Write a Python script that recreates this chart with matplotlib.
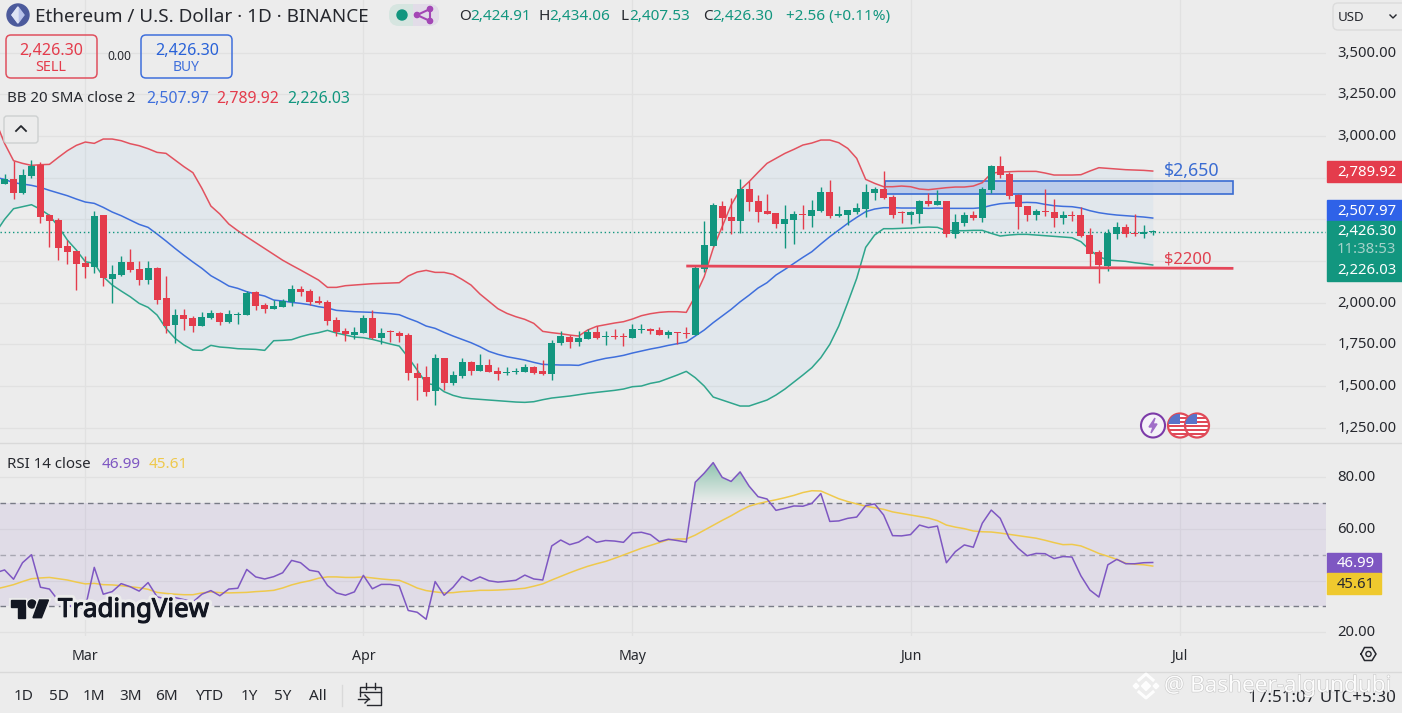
import matplotlib
matplotlib.use("Agg")
import matplotlib.pyplot as plt
import matplotlib.patheffects as pe
import numpy as np
from matplotlib.colors import LinearSegmentedColormap
from matplotlib.patches import Circle, FancyBboxPatch, Polygon, Rectangle
from matplotlib.transforms import ScaledTranslation

W, H = 1402, 713
BG = "#ececec"
GRID = "#e1e1e1"
UP = "#12967f"
DOWN = "#e43c4c"
INK = "#26282e"
plt.rcParams["font.family"] = ["Noto Sans", "DejaVu Sans"]

# days counted from 1 March, candles run from day -9 to day 119
candle_days = np.arange(-9, 120)
band_days = np.arange(-10, 120)

opens = [
    2712, 2740, 2658, 2762, 2828, 2526, 2496, 2340, 2310, 2238,
    2216, 2526, 2144, 2166, 2244, 2200, 2136, 2208, 2028, 1868,
    1924, 1908, 1862, 1908, 1938, 1884, 1928, 1928, 2064, 1986,
    1962, 1976, 2004, 2082, 2070, 2010, 2004, 1896, 1830, 1808,
    1818, 1908, 1788, 1826, 1820, 1806, 1578, 1554, 1470, 1668,
    1516, 1560, 1644, 1592, 1624, 1590, 1580, 1586, 1584, 1614,
    1590, 1572, 1758, 1794, 1764, 1782, 1822, 1794, 1800, 1802,
    1788, 1836, 1842, 1836, 1808, 1824, 1818, 1806, 2202, 2340,
    2580, 2514, 2490, 2680, 2610, 2550, 2538, 2472, 2496, 2532,
    2520, 2550, 2664, 2520, 2526, 2544, 2562, 2658, 2682, 2634,
    2544, 2526, 2532, 2610, 2586, 2610, 2412, 2478, 2526, 2508,
    2676, 2820, 2772, 2646, 2580, 2526, 2550, 2544, 2508, 2526,
    2526, 2406, 2304, 2220, 2412, 2454, 2418, 2412, 2424.91,
]
highs = [
    2772, 2852, 2800, 2856, 2842, 2532, 2506, 2376, 2310, 2280,
    2550, 2526, 2226, 2280, 2322, 2248, 2250, 2212, 2160, 1962,
    1962, 1920, 1944, 1956, 1944, 1956, 1944, 2072, 2070, 2000,
    2016, 2022, 2106, 2100, 2082, 2040, 2016, 1914, 1848, 1854,
    1926, 1956, 1848, 1836, 1830, 1818, 1638, 1620, 1692, 1668,
    1590, 1668, 1650, 1692, 1662, 1614, 1614, 1608, 1632, 1620,
    1656, 1776, 1830, 1806, 1830, 1842, 1860, 1830, 1842, 1818,
    1872, 1872, 1848, 1854, 1836, 1824, 1854, 2220, 2490, 2598,
    2610, 2628, 2742, 2730, 2646, 2652, 2538, 2586, 2550, 2586,
    2616, 2694, 2736, 2580, 2556, 2598, 2712, 2694, 2790, 2646,
    2550, 2550, 2616, 2658, 2676, 2610, 2532, 2544, 2550, 2694,
    2826, 2880, 2784, 2652, 2580, 2562, 2682, 2622, 2550, 2550,
    2574, 2448, 2316, 2442, 2484, 2472, 2532, 2466, 2434.06,
]
lows = [
    2712, 2624, 2652, 2750, 2480, 2336, 2256, 2232, 2076, 2148,
    2180, 2100, 2000, 2160, 2184, 2106, 2112, 1992, 1820, 1760,
    1836, 1824, 1860, 1904, 1866, 1880, 1872, 1928, 1956, 1938,
    1960, 1976, 1982, 2040, 1986, 1992, 1866, 1800, 1770, 1782,
    1818, 1782, 1752, 1764, 1764, 1536, 1416, 1440, 1386, 1476,
    1506, 1548, 1566, 1588, 1584, 1536, 1566, 1572, 1582, 1572,
    1566, 1536, 1746, 1728, 1740, 1780, 1782, 1746, 1782, 1740,
    1788, 1818, 1812, 1804, 1788, 1752, 1788, 1806, 2184, 2340,
    2436, 2412, 2418, 2550, 2484, 2532, 2448, 2328, 2352, 2442,
    2454, 2544, 2508, 2514, 2466, 2532, 2514, 2616, 2622, 2508,
    2478, 2472, 2478, 2580, 2586, 2394, 2388, 2460, 2496, 2484,
    2658, 2748, 2622, 2442, 2490, 2496, 2520, 2454, 2472, 2490,
    2394, 2208, 2118, 2190, 2382, 2394, 2400, 2388, 2407.53,
]
closes = [
    2740, 2660, 2766, 2820, 2516, 2492, 2330, 2306, 2234, 2214,
    2520, 2150, 2172, 2244, 2198, 2138, 2208, 2018, 1862, 1926,
    1902, 1862, 1914, 1938, 1884, 1932, 1932, 2060, 1982, 1962,
    1980, 2010, 2082, 2064, 2004, 1996, 1892, 1824, 1810, 1824,
    1908, 1788, 1818, 1824, 1800, 1578, 1548, 1464, 1668, 1518,
    1566, 1644, 1592, 1624, 1584, 1574, 1584, 1590, 1614, 1578,
    1572, 1758, 1800, 1764, 1788, 1822, 1788, 1800, 1794, 1796,
    1842, 1842, 1828, 1806, 1824, 1820, 1812, 2208, 2346, 2586,
    2508, 2490, 2680, 2604, 2544, 2532, 2472, 2502, 2532, 2526,
    2556, 2664, 2520, 2532, 2556, 2568, 2664, 2682, 2628, 2526,
    2538, 2544, 2610, 2592, 2610, 2412, 2484, 2526, 2508, 2682,
    2820, 2766, 2640, 2574, 2526, 2550, 2544, 2508, 2526, 2520,
    2400, 2292, 2226, 2418, 2454, 2412, 2410, 2424, 2426.30,
]

bb_upper = [
    3090, 2956, 2852, 2836, 2824, 2828, 2830, 2872, 2912, 2944, 2964,
    2956, 2982, 2982, 2972, 2954, 2942, 2924, 2902, 2896, 2856,
    2816, 2780, 2686, 2580, 2532, 2472, 2432, 2395, 2360, 2325,
    2290, 2255, 2225, 2196, 2166, 2136, 2092, 2092, 2102, 2106,
    2110, 2114, 2116, 2118, 2120, 2160, 2184, 2194, 2182, 2182,
    2170, 2140, 2106, 2052, 2008, 1964, 1936, 1916, 1900, 1876,
    1828, 1820, 1814, 1806, 1800, 1836, 1858, 1868, 1878, 1886,
    1902, 1922, 1934, 1942, 1946, 1946, 1942, 2040, 2156, 2326,
    2456, 2586, 2676, 2726, 2782, 2836, 2866, 2896, 2920, 2946,
    2958, 2976, 2976, 2960, 2926, 2866, 2740, 2716, 2696, 2696,
    2700, 2696, 2682, 2678, 2684, 2690, 2694, 2694, 2700, 2720,
    2776, 2784, 2786, 2788, 2788, 2788, 2778, 2766, 2766, 2766,
    2768, 2790, 2810, 2806, 2802, 2798, 2796, 2794, 2789.92,
]
bb_middle = [
    2752, 2740, 2720, 2712, 2704, 2692, 2674, 2658, 2642, 2622, 2604,
    2596, 2572, 2544, 2522, 2496, 2470, 2452, 2412, 2370, 2326,
    2284, 2244, 2206, 2162, 2132, 2100, 2086, 2066, 2052, 2040,
    2016, 2010, 2002, 1996, 1988, 1976, 1968, 1954, 1950, 1946,
    1944, 1942, 1938, 1934, 1928, 1906, 1886, 1860, 1846, 1822,
    1800, 1780, 1760, 1736, 1708, 1690, 1676, 1666, 1656, 1642,
    1630, 1628, 1626, 1626, 1624, 1640, 1654, 1666, 1674, 1684,
    1698, 1710, 1722, 1732, 1744, 1754, 1764, 1800, 1836, 1880,
    1920, 1960, 2005, 2045, 2088, 2120, 2166, 2200, 2236, 2272,
    2306, 2352, 2396, 2436, 2476, 2512, 2546, 2562, 2570, 2570,
    2568, 2568, 2568, 2566, 2568, 2566, 2566, 2566, 2566, 2570,
    2584, 2594, 2598, 2600, 2602, 2600, 2590, 2582, 2578, 2576,
    2568, 2552, 2540, 2532, 2526, 2522, 2518, 2514, 2507.97,
]
bb_lower = [
    2420, 2500, 2564, 2576, 2588, 2560, 2524, 2456, 2376, 2316, 2246,
    2236, 2156, 2106, 2070, 2036, 1996, 1972, 1926, 1846, 1786,
    1746, 1716, 1714, 1744, 1734, 1730, 1724, 1722, 1720, 1714,
    1772, 1774, 1778, 1796, 1810, 1820, 1834, 1818, 1806, 1794,
    1790, 1780, 1766, 1752, 1740, 1672, 1596, 1516, 1506, 1466,
    1444, 1430, 1424, 1420, 1416, 1412, 1408, 1404, 1402, 1406,
    1418, 1428, 1434, 1440, 1448, 1456, 1462, 1468, 1474, 1482,
    1496, 1500, 1516, 1526, 1546, 1566, 1588, 1550, 1500, 1434,
    1416, 1398, 1380, 1380, 1398, 1416, 1446, 1482, 1524, 1566,
    1610, 1670, 1750, 1860, 2000, 2146, 2332, 2406, 2444, 2444,
    2446, 2448, 2452, 2454, 2452, 2432, 2432, 2432, 2434, 2434,
    2416, 2400, 2406, 2410, 2410, 2406, 2402, 2398, 2394, 2390,
    2366, 2316, 2276, 2256, 2252, 2248, 2240, 2234, 2226.03,
]
rsi = [
    43.0, 44.1, 40.5, 46.9, 50.0, 37.4, 36.7, 32.2, 30.5, 29.5, 29.5,
    45.1, 34.7, 35.7, 38.8, 37.6, 35.9, 39.2, 33.7, 32.8, 33.4,
    32.6, 31.7, 34.7, 36.1, 34.1, 36.7, 37.0, 44.3, 41.4, 40.6,
    41.5, 43.0, 47.8, 46.9, 44.0, 43.4, 38.1, 35.2, 34.3, 35.6,
    42.0, 36.8, 38.5, 38.5, 37.9, 28.4, 27.7, 25.0, 39.6, 34.3,
    37.4, 41.6, 39.8, 41.4, 39.9, 39.4, 39.7, 40.1, 42.1, 40.6,
    40.2, 53.4, 55.7, 53.9, 54.9, 57.1, 54.8, 55.5, 55.3, 54.8,
    58.4, 58.7, 57.8, 55.1, 56.0, 55.5, 54.9, 78.1, 81.6, 85.7,
    80.0, 78.4, 82.1, 76.6, 72.5, 71.6, 67.2, 68.0, 68.9, 68.8,
    69.9, 73.7, 62.9, 63.1, 64.1, 64.6, 69.0, 69.7, 65.4, 57.4,
    57.3, 57.8, 61.5, 60.5, 61.1, 46.9, 51.2, 53.8, 52.9, 62.2,
    67.3, 64.1, 56.4, 52.5, 49.6, 50.5, 50.4, 48.5, 49.3, 49.1,
    41.8, 36.3, 33.6, 46.1, 48.2, 46.5, 46.5, 46.9, 46.99,
]
rsi_ma = [
    36.7, 37.5, 38.4, 39.6, 40.7, 41.0, 41.2, 40.7, 40.2, 39.4, 38.7,
    38.9, 38.4, 38.3, 38.0, 37.6, 37.2, 36.6, 35.4, 35.0, 34.7,
    34.5, 34.5, 35.2, 35.6, 35.3, 35.2, 35.3, 35.4, 35.7, 35.9,
    36.2, 37.1, 38.3, 39.2, 39.9, 40.9, 41.4, 41.4, 41.2, 41.2,
    41.4, 41.0, 40.6, 40.3, 40.1, 38.7, 37.1, 36.1, 35.6, 35.2,
    35.3, 35.7, 35.9, 36.2, 36.2, 36.3, 36.5, 36.7, 37.0, 37.8,
    38.7, 40.2, 41.6, 43.0, 44.3, 45.5, 46.5, 47.4, 48.6, 49.9,
    51.2, 52.5, 53.6, 54.7, 55.8, 56.1, 56.1, 57.6, 59.5, 61.4,
    63.3, 65.1, 67.1, 68.8, 69.8, 70.6, 71.3, 72.1, 73.0, 74.1,
    74.8, 74.7, 73.2, 71.7, 70.6, 69.7, 68.8, 68.2, 67.6, 66.6,
    66.0, 65.4, 64.8, 64.2, 63.2, 61.5, 60.7, 60.1, 59.2, 58.9,
    58.8, 58.4, 57.9, 57.4, 56.9, 56.4, 55.6, 54.7, 53.9, 54.0,
    53.4, 52.0, 50.5, 49.4, 48.2, 46.7, 46.3, 46.1, 45.61,
]

price_ticks = [3500, 3250, 3000, 2750, 2500, 2250, 2000, 1750, 1500, 1250]
rsi_ticks = [80, 60, 40, 20]
# these tick labels sit behind the value tags in the reference
covered_ticks = [2750, 2500, 2250, 40]
month_days = [0, 31, 61, 92, 122]
month_labels = ["Mar", "Apr", "May", "Jun", "Jul"]
range_labels = ["1D", "5D", "1M", "3M", "6M", "YTD", "1Y", "5Y", "All"]
last_close = 2426.30
zone_low, zone_high = 2650, 2728
line_start, line_end = 2220, 2206


def axes_px(fig, x0, y0, x1, y1):
    return fig.add_axes([x0 / W, 1 - y1 / H, (x1 - x0) / W, (y1 - y0) / H])


def style_pane(ax, yticks, fmt):
    ax.set_facecolor(BG)
    for spine in ax.spines.values():
        spine.set_visible(False)
    ax.set_yticks(yticks)
    ax.set_yticklabels(["" if v in covered_ticks else fmt.format(v) for v in yticks])
    ax.yaxis.tick_right()
    ax.tick_params(axis="y", length=0, pad=8.2, labelsize=10.7, labelcolor=INK)
    ax.tick_params(axis="x", length=0)
    ax.set_xticks(month_days)
    ax.grid(True, color=GRID, lw=0.9)
    ax.set_axisbelow(True)
    ax.set_xlim(-9.51, 138.32)
    nudge = ScaledTranslation(0, 1.1 / 72, fig.dpi_scale_trans)
    for t in ax.get_yticklabels():
        t.set_transform(t.get_transform() + nudge)


fig = plt.figure(figsize=(W / 100, H / 100), dpi=100, facecolor=BG)

# price pane
ax = axes_px(fig, 0, 0, 1326, 443)
style_pane(ax, price_ticks, "{:,.2f}")
ax.set_xticklabels([])
ax.set_ylim(1158.2, 3816.2)

ax.fill_between(band_days, bb_lower, bb_upper, color="#2196f3", alpha=0.05, lw=0, zorder=1)
ax.add_patch(Rectangle((89.1, zone_low), 38.9, zone_high - zone_low, facecolor="#9db6ea", alpha=0.55,
                       edgecolor="none", zorder=1.5))
ax.add_patch(Rectangle((89.1, zone_low), 38.9, zone_high - zone_low, fill=False,
                       edgecolor="#3a6cd2", lw=1.2, zorder=1.6))
ax.plot(band_days, bb_upper, color="#e2525f", lw=1.1, zorder=2)
ax.plot(band_days, bb_middle, color="#3f6fdc", lw=1.1, zorder=2)
ax.plot(band_days, bb_lower, color="#2fa58c", lw=1.1, zorder=2)
ax.axhline(last_close, color=UP, lw=1, ls=(0, (1, 2)), zorder=2)

colors = [UP if c >= o else DOWN for o, c in zip(opens, closes)]
body_low = np.minimum(opens, closes)
body_high = np.maximum(opens, closes)
ax.vlines(candle_days, lows, highs, colors=colors, lw=1, zorder=3)
ax.bar(candle_days, np.maximum(body_high - body_low, 6), bottom=body_low, width=0.78,
       color=colors, lw=0, zorder=4)

ax.plot([67, 128], [line_start, line_end], color="#e5475a", lw=2, solid_capstyle="butt", zorder=5)
ax.text(120.3, 2736, "$2,650", color="#3a6cd2", fontsize=12.8, va="bottom", zorder=6)
ax.text(120.3, 2210, "$2200", color="#e0404f", fontsize=12, va="bottom", zorder=6)

# rsi pane
ax_rsi = axes_px(fig, 0, 443, 1326, 636)
style_pane(ax_rsi, rsi_ticks, "{:.2f}")
ax_rsi.set_xticklabels(month_labels, fontsize=10.2, color=INK)
ax_rsi.tick_params(axis="x", pad=9)
ax_rsi.set_ylim(18.5, 93.3)

ax_rsi.axhspan(30, 70, color="#7e57c2", alpha=0.1, lw=0, zorder=1)
ax_rsi.axhline(70, color="#787b86", lw=1, ls=(0, (4, 3)), zorder=2)
ax_rsi.axhline(50, color="#787b86", lw=1, ls=(0, (4, 3)), alpha=0.55, zorder=2)
ax_rsi.axhline(30, color="#787b86", lw=1, ls=(0, (4, 3)), zorder=2)

over = ax_rsi.fill_between(band_days, 70, rsi, where=np.array(rsi) > 70, interpolate=True,
                           color="none", lw=0)
green_fade = LinearSegmentedColormap.from_list("fade", [BG, "#8cc4ae"])
for path in over.get_paths():
    im = ax_rsi.imshow(np.linspace(1, 0, 64).reshape(-1, 1), cmap=green_fade, aspect="auto",
                       extent=(60, 90, 70, 86), zorder=2, origin="upper")
    im.set_clip_path(path, transform=ax_rsi.transData)
ax_rsi.set_xlim(-9.51, 138.32)
ax_rsi.set_ylim(18.5, 93.3)

ax_rsi.plot(band_days, rsi_ma, color="#efc94c", lw=1.1, zorder=3)
ax_rsi.plot(band_days, rsi, color="#7e57c2", lw=1.1, zorder=4)

# screen furniture drawn in pixel coordinates
ui = fig.add_axes([0, 0, 1, 1], zorder=10)
ui.set_xlim(0, W)
ui.set_ylim(H, 0)
ui.axis("off")
ui.patch.set_alpha(0)


def label(x, y, s, color=INK, size=10.2, ha="left", **kw):
    return ui.text(x, y + 1.8, s, color=color, fontsize=size, ha=ha, va="center", **kw)


def box(x0, y0, x1, y1, face="none", edge="none", lw=1, r=3):
    ui.add_patch(FancyBboxPatch((x0 + r, y0 + r), x1 - x0 - 2 * r, y1 - y0 - 2 * r,
                                boxstyle=f"round,pad={r},rounding_size={r}",
                                facecolor=face, edgecolor=edge, lw=lw))


ui.plot([0, W], [443, 443], color="#d9d9d9", lw=1)
ui.plot([0, W], [671.5, 671.5], color="#d9d9d9", lw=1)

# header
ui.add_patch(Circle((18, 15), 11, color="#4c5a9c"))
ui.add_patch(Polygon([(18, 7), (24, 15), (18, 23), (12, 15)], color="#b9c3ea"))
ui.add_patch(Polygon([(18, 7), (18, 23), (12, 15)], color="#dfe4f5"))
label(35, 15, "Ethereum / U.S. Dollar · 1D · BINANCE", size=13.6)

box(389, 4, 439, 26, face="#d6e5e0", r=10)
box(413, 4, 439, 26, face="#e2dce8", r=10)
ui.add_patch(Rectangle((413, 4), 12, 22, color="#e2dce8", lw=0))
ui.add_patch(Circle((402, 15), 5, color="#12967f"))
ui.plot([417, 430, 430, 417], [15, 9, 21, 15], color="#a347b5", lw=1.5)
for px, py in [(417, 15), (430, 9), (430, 21)]:
    ui.add_patch(Circle((px, py), 2.6, color="#a347b5"))

for x, letter, val in [(459, "O", "2,424.91"), (538, "H", "2,434.06"),
                       (621, "L", "2,407.53"), (703, "C", "2,426.30")]:
    label(x, 15, letter, size=11)
    off = 11 if letter in "OH" else 8 if letter == "L" else 9
    label(x + off, 15, val, color=UP, size=11)
label(786, 15, "+2.56 (+0.11%)", color=UP, size=11)

box(6, 35, 97, 78, edge="#e0505e", lw=1.1, r=5)
box(141, 35, 232, 78, edge="#3f6fdc", lw=1.1, r=5)
label(51, 49, "2,426.30", color=DOWN, size=11.6, ha="center")
label(51, 66, "SELL", color=DOWN, size=10.4, ha="center")
label(119, 55, "0.00", size=8.6, ha="center")
label(187, 49, "2,426.30", color="#2962d8", size=11.6, ha="center")
label(186, 66, "BUY", color="#3f6fdc", size=10, ha="center")

label(7, 97, "BB 20 SMA close 2", size=10.8)
label(146, 97, "2,507.97", color="#3f6fdc", size=11.4)
label(216, 97, "2,789.92", color=DOWN, size=11.4)
label(287, 97, "2,226.03", color=UP, size=11.4)

box(4, 116, 38, 143, edge="#cdd0d0", lw=1, face=BG, r=3)
ui.plot([16, 21, 26], [131, 126, 131], color=INK, lw=1.3)

label(7, 463, "RSI 14 close", size=10.8)
label(102, 463, "46.99", color="#7e57c2", size=11)
label(149, 463, "45.61", color="#efc94c", size=11)

box(1333, 3, 1408, 30, edge="#dcdcdc", face=BG, r=5)
label(1338, 16, "USD", size=9.6)
ui.plot([1390, 1393, 1396], [15, 18, 15], color=INK, lw=1)

# price tags
ui.add_patch(Rectangle((1327, 161), 75, 21, color="#e43c4c"))
ui.add_patch(Rectangle((1327, 200), 75, 21, color="#2f62e8"))
ui.add_patch(Rectangle((1327, 221), 75, 60, color="#12967f"))
label(1396, 170.5, "2,789.92", color="white", size=10.7, ha="right")
label(1396, 209.5, "2,507.97", color="white", size=10.7, ha="right")
label(1396, 229.5, "2,426.30", color="white", size=10.7, ha="right")
label(1396, 248, "11:38:53", color="#a6d2ca", size=10.7, ha="right")
label(1396, 268.5, "2,226.03", color="white", size=10.7, ha="right")
ui.add_patch(Rectangle((1327, 552.5), 54, 20.5, color="#7e57c2"))
ui.add_patch(Rectangle((1327, 573), 54, 21, color="#efc92e"))
label(1375, 561.5, "46.99", color="white", size=10.7, ha="right")
label(1375, 582.5, "45.61", color=INK, size=10.7, ha="right")

# event markers
ui.add_patch(Circle((1153, 425.5), 12, facecolor="#f4f1f8", edgecolor="#7c3aa8", lw=1.5))
ui.add_patch(Polygon([(1155, 418), (1149, 427), (1153, 427), (1151, 433), (1157, 424), (1153, 424)],
                     color="#a06cc8"))
for cx in (1180, 1197):
    clip = Circle((cx, 425.5), 12, facecolor="white", edgecolor="#e04a58", lw=1.6)
    ui.add_patch(clip)
    for sy in (417, 421, 425, 429, 433):
        r = ui.add_patch(Rectangle((cx - 12, sy), 24, 2.2, color="#e04a58", lw=0))
        r.set_clip_path(clip)
    r = ui.add_patch(Rectangle((cx - 12, 414), 12, 10, color="#5a73c8", lw=0))
    r.set_clip_path(clip)

# tradingview mark
halo = [pe.withStroke(linewidth=5, foreground=BG),
        pe.withStroke(linewidth=0.8, foreground="#131722")]
logo_halo = [pe.withStroke(linewidth=3, foreground=BG)]
for shape in [Polygon([(11, 600), (25, 600), (25, 617.7), (18, 617.7), (18, 607), (11, 607)], color="#131722"),
              Circle((32, 604), 4, color="#131722"),
              Polygon([(39.5, 600), (48.5, 600), (41.5, 617.7), (33, 617.7)], color="#131722")]:
    shape.set_path_effects(logo_halo)
    ui.add_patch(shape)
label(58, 608.5, "TradingView", color="#131722", size=18.6, weight="bold", path_effects=halo)

# settings hexagon and bottom toolbar
hex_x = [1361, 1364.5, 1372, 1376, 1372, 1364.5, 1361]
hex_y = [654, 647.5, 647.5, 654, 660.5, 660.5, 654]
ui.plot(hex_x, hex_y, color=INK, lw=1.1)
ui.add_patch(Circle((1368.5, 654), 2.6, fill=False, edgecolor=INK, lw=1))

for x, s in zip([24, 59, 94, 131, 167, 209, 249, 283, 318], range_labels):
    label(x, 695, s, size=11, ha="center")
ui.plot([342, 342], [685, 706], color="#d9d9d9", lw=1)
# calendar jump icon
ui.plot([360, 360, 381, 381, 367], [696, 687, 687, 705, 705], color=INK, lw=1)
ui.plot([360, 381], [692, 692], color=INK, lw=1)
ui.plot([366, 366], [683, 689], color=INK, lw=1)
ui.plot([375, 375], [683, 689], color=INK, lw=1)
ui.plot([358, 369], [699, 699], color=INK, lw=1)
ui.plot([365, 369, 365], [695, 699, 703], color=INK, lw=1)

label(1396, 696, "17:51:07 UTC+5:30", size=12.2, ha="right")
# watermark
diamonds = [(1146, 686, 4.5), (1136, 686, 2.8), (1156, 686, 2.8)]
for cx, cy, s in diamonds:
    ui.add_patch(Polygon([(cx, cy - s), (cx + s, cy), (cx, cy + s), (cx - s, cy)], color="white", alpha=0.9))
ui.plot([1139, 1146, 1153], [680, 674, 680], color="white", lw=2.2, alpha=0.9)
ui.plot([1139, 1146, 1153], [692, 698, 692], color="white", lw=2.2, alpha=0.9)
label(1164, 684.5, "@ Basheer-algundubi", color="white", size=16.2, alpha=0.9,
      path_effects=[pe.withStroke(linewidth=0.8, foreground="#c4c4c4")])

fig.savefig("out.png", dpi=100, facecolor=BG)
